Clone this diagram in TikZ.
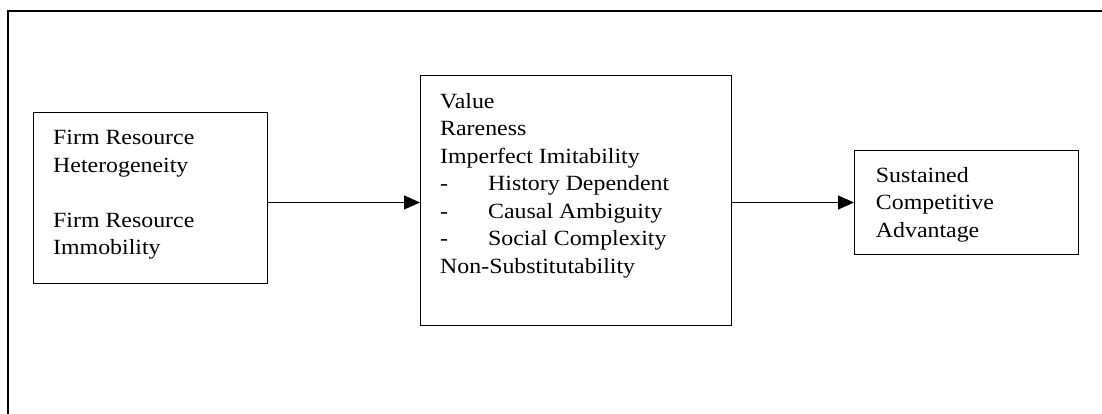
\documentclass[tikz,border=0pt]{standalone}
\usepackage{fontspec}
\setmainfont{Liberation Serif}[FakeStretch=1.1]
\usetikzlibrary{arrows.meta}
\begin{document}
\begin{tikzpicture}[x=1pt,y=-1pt,
  box/.style={draw, line width=1pt, inner sep=0pt, anchor=north west},
  txt/.style={anchor=base west, inner sep=0pt, align=left,
    font=\fontsize{21.7}{27.5}\selectfont},
  flow/.style={-{Triangle[length=16pt,width=14pt]}, line width=1pt}]
\useasboundingbox (0,0) rectangle (1102,414);
% frame
\draw[line width=2pt] (8,414) -- (8,11) -- (1102,11);
% boxes
\node[box, minimum width=234pt, minimum height=171pt] (frh) at (33,112) {};
\node[box, minimum width=311pt, minimum height=250pt] (core) at (420,75) {};
\node[box, minimum width=224pt, minimum height=104pt] (sca) at (854,150) {};
% texts (anchored on their last line)
\node[txt] (frhtext) at (53,254.5) {Firm Resource\\Heterogeneity\\[27.5pt]Firm Resource\\Immobility};
\node[txt] (coretext) at (440,273) {Value\\Rareness\\Imperfect Imitability\\
  \makebox[48pt][l]{-}History Dependent\\
  \makebox[48pt][l]{-}Causal Ambiguity\\
  \makebox[48pt][l]{-}Social Complexity\\
  Non-Substitutability};
\node[txt] (scatext) at (875.7,237) {Sustained\\Competitive\\Advantage};
% arrows
\draw[flow] (frh.east |- sca.west) -- (core.west |- sca.west);
\draw[flow] (core.east |- sca.west) -- (sca.west);
\end{tikzpicture}
\end{document}
